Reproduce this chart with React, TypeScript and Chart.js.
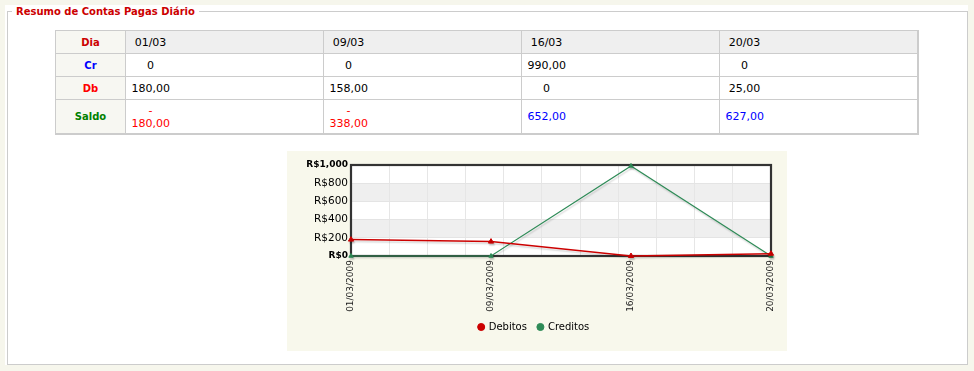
import React, { useEffect, useRef } from "react";
import { Chart, registerables } from "chart.js";

Chart.register(...registerables);

// ---- data ----
const tableDays = ["01/03", "09/03", "16/03", "20/03"];
const chartLabels = ["01/03/2009", "09/03/2009", "16/03/2009", "20/03/2009"];
const debitos = [180, 158, 0, 25];
const creditos = [0, 0, 990, 0];
const crText = ["0", "0", "990,00", "0"];
const dbText = ["180,00", "158,00", "0", "25,00"];
const saldoValues = [-180, -338, 652, 627];
const saldoText = ["- 180,00", "- 338,00", "652,00", "627,00"];
const yMin = 0;
const yMax = 1000;
const yStep = 200;
const bandRanges = [
  [200, 400],
  [600, 800],
];
const verticalGridCount = 11;

const FONT = '"DejaVu Sans", Verdana, sans-serif';
const BORDER = "#cccccc";

function LabelCell({ text, color, row }: { text: string; color: string; row: number }) {
  return (
    <div
      style={{
        boxSizing: "border-box",
        borderRight: `1px solid ${BORDER}`,
        borderBottom: row === 3 ? `2px solid ${BORDER}` : `1px solid ${BORDER}`,
        background: "#f7f7f2",
        display: "flex",
        alignItems: "center",
        justifyContent: "center",
        fontFamily: FONT,
        fontWeight: "bold",
        fontSize: 10,
        color,
      }}
    >
      {text}
    </div>
  );
}

function DataCell({
  text,
  color,
  row,
  col,
  bg,
}: {
  text: string;
  color: string;
  row: number;
  col: number;
  bg: string;
}) {
  return (
    <div
      style={{
        boxSizing: "border-box",
        borderRight: col === 3 ? `2px solid ${BORDER}` : `1px solid ${BORDER}`,
        borderBottom: row === 3 ? `2px solid ${BORDER}` : `1px solid ${BORDER}`,
        background: bg,
        display: "flex",
        alignItems: "center",
        paddingLeft: 5.5,
        fontFamily: FONT,
        fontSize: 11,
        color,
      }}
    >
      <div style={{ width: 38, textAlign: "center", lineHeight: "13px" }}>{text}</div>
    </div>
  );
}

function SummaryTable() {
  const cells: React.ReactNode[] = [];
  cells.push(<LabelCell key="l0" text="Dia" color="#cc0000" row={0} />);
  tableDays.forEach((d, i) =>
    cells.push(<DataCell key={"d" + i} text={d} color="#000" row={0} col={i} bg="#efefef" />)
  );
  cells.push(<LabelCell key="l1" text="Cr" color="#0000ff" row={1} />);
  crText.forEach((t, i) =>
    cells.push(<DataCell key={"c" + i} text={t} color="#000" row={1} col={i} bg="#fff" />)
  );
  cells.push(<LabelCell key="l2" text="Db" color="#ff0000" row={2} />);
  dbText.forEach((t, i) =>
    cells.push(<DataCell key={"b" + i} text={t} color="#000" row={2} col={i} bg="#fff" />)
  );
  cells.push(<LabelCell key="l3" text="Saldo" color="#008000" row={3} />);
  saldoText.forEach((t, i) =>
    cells.push(
      <DataCell
        key={"s" + i}
        text={t}
        color={saldoValues[i] < 0 ? "#ff0000" : "#0000ff"}
        row={3}
        col={i}
        bg="#fff"
      />
    )
  );
  return (
    <div
      style={{
        position: "absolute",
        left: 55,
        top: 30,
        borderLeft: `1px solid ${BORDER}`,
        borderTop: `1px solid ${BORDER}`,
        display: "grid",
        gridTemplateColumns: "70px 198px 198px 198px 199px",
        gridTemplateRows: "23px 23px 23px 35px",
      }}
    >
      {cells}
    </div>
  );
}

function LineChart() {
  const ref = useRef<HTMLCanvasElement>(null);
  useEffect(() => {
    if (!ref.current) return;
    const decor = {
      id: "decor",
      afterLayout(chart: any) {
        if (chart.legend) {
          chart.legend.top -= 5;
          chart.legend.bottom -= 5;
        }
      },
      beforeDraw(chart: any) {
        const { ctx, chartArea: a } = chart;
        const y = chart.scales.y;
        ctx.save();
        ctx.fillStyle = "#f8f8ec";
        ctx.fillRect(0, 0, chart.width, chart.height);
        ctx.fillStyle = "#ffffff";
        ctx.fillRect(a.left, a.top, a.right - a.left, a.bottom - a.top);
        ctx.fillStyle = "#efefef";
        bandRanges.forEach(([lo, hi]) => {
          const t = y.getPixelForValue(hi);
          const b = y.getPixelForValue(lo);
          ctx.fillRect(a.left, t, a.right - a.left, b - t);
        });
        ctx.restore();
      },
      beforeDatasetsDraw(chart: any) {
        const { ctx, chartArea: a } = chart;
        ctx.save();
        ctx.strokeStyle = "#333333";
        ctx.lineWidth = 2.2;
        ctx.strokeRect(a.left, a.top, a.right - a.left, a.bottom - a.top);
        ctx.restore();
        ctx.save();
        ctx.shadowColor = "rgba(0,0,0,0.16)";
        ctx.shadowOffsetX = 1;
        ctx.shadowOffsetY = 2;
        ctx.shadowBlur = 1.5;
      },
      afterDatasetsDraw(chart: any) {
        chart.ctx.restore();
      },
    };

    const chart = new Chart(ref.current, {
      type: "line",
      data: {
        labels: chartLabels,
        datasets: [
          {
            label: "Debitos",
            data: debitos,
            borderColor: "#cc0000",
            backgroundColor: "#cc0000",
            borderWidth: 1.5,
            pointStyle: "triangle",
            pointRadius: 3,
            pointBackgroundColor: "#cc0000",
            pointBorderColor: "#cc0000",
            pointBorderWidth: 1,
            tension: 0,
            clip: false as any,
            xAxisID: "x",
            yAxisID: "y",
          },
          {
            label: "Creditos",
            data: creditos,
            borderColor: "#2e8b57",
            backgroundColor: "#2e8b57",
            borderWidth: 1.2,
            pointStyle: "triangle",
            pointRadius: 2.5,
            pointBackgroundColor: "#2e8b57",
            pointBorderColor: "#2e8b57",
            pointBorderWidth: 1,
            tension: 0,
            clip: false as any,
            xAxisID: "x",
            yAxisID: "y",
          },
        ],
      },
      options: {
        animation: false,
        responsive: false,
        devicePixelRatio: 1,
        layout: { padding: { top: 14, right: 16, bottom: 4, left: 10 } },
        plugins: {
          legend: {
            position: "bottom",
            labels: {
              usePointStyle: true,
              pointStyle: "circle",
              boxWidth: 5,
              boxHeight: 5,
              padding: 11,
              color: "#000",
              font: { family: FONT, size: 10 },
            },
          },
          tooltip: { enabled: false },
        },
        scales: {
          x: {
            type: "category",
            offset: false,
            grid: { display: false, drawTicks: false, tickLength: 0 },
            border: { display: false },
            ticks: {
              autoSkip: false,
              minRotation: 90,
              maxRotation: 90,
              padding: 4,
              color: "#222",
              font: { family: FONT, size: 9 },
            },
            afterFit: (s: any) => {
              s.height = 60;
            },
          },
          xg: {
            type: "linear",
            position: "top",
            min: 0,
            max: verticalGridCount,
            ticks: { display: false, stepSize: 1 },
            grid: { color: "#e6e6e6", drawTicks: false },
            border: { display: false },
            afterFit: (s: any) => {
              s.height = 0;
            },
          },
          y: {
            min: yMin,
            max: yMax,
            ticks: {
              stepSize: yStep,
              padding: 3,
              color: "#000",
              font: (ctx: any) =>
                ctx.tick && (ctx.tick.value === yMin || ctx.tick.value === yMax)
                  ? { family: FONT, size: 9, weight: "bold" }
                  : { family: FONT, size: 10.5 },
              callback: (v: any) => "R$" + Number(v).toLocaleString("en-US"),
            },
            grid: { color: "#e4e4e4", drawTicks: false },
            border: { display: false },
            afterFit: (s: any) => {
              s.width = 54;
            },
          },
        } as any,
      },
      plugins: [decor],
    });
    return () => chart.destroy();
  }, []);
  return (
    <canvas
      ref={ref}
      width={500}
      height={200}
      style={{ position: "absolute", left: 287, top: 151, width: 500, height: 200, display: "block" }}
    />
  );
}

export default function App() {
  return (
    <div
      style={{
        position: "fixed",
        left: 0,
        top: 0,
        width: 974,
        height: 371,
        background: "#f6f6ec",
        overflow: "hidden",
      }}
    >
      <div
        style={{
          position: "absolute",
          left: 5,
          top: 5,
          width: 963,
          height: 360,
          background: "#ffffff",
        }}
      />
      <div
        style={{
          position: "absolute",
          left: 7,
          top: 11,
          width: 961,
          height: 354,
          boxSizing: "border-box",
          border: `1px solid ${BORDER}`,
        }}
      />
      <div
        style={{
          position: "absolute",
          left: 12,
          top: 5,
          padding: "0 4px",
          background: "#ffffff",
          fontFamily: FONT,
          fontWeight: "bold",
          fontSize: 10,
          lineHeight: "14px",
          color: "#cc0000",
          whiteSpace: "nowrap",
        }}
      >
        Resumo de Contas Pagas Diário
      </div>
      <SummaryTable />
      <LineChart />
    </div>
  );
}
